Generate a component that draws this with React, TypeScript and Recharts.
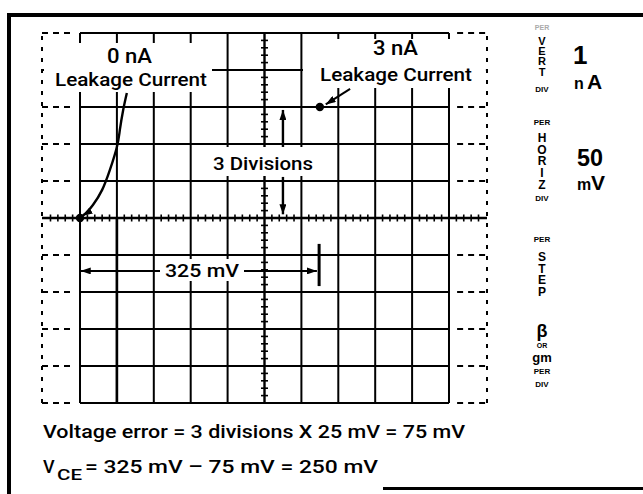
import { ComposedChart, XAxis, YAxis, Line, Scatter, ReferenceLine } from 'recharts'

// graticule, in divisions (50 mV / div across, 1 nA / div up)
const X_MIN = -1.03
const X_MAX = 11.03
const CENTER = 5
const COLUMNS = [0, 1, 2, 3, 4, 6, 7, 8, 9, 10]
const ROWS = [0, 1, 2, 3, 4, 6, 7, 8, 9, 10]
const SUBDIV = [0.2, 0.4, 0.6, 0.8]
const H_TICK_DIVS = [-1, 0, 1, 2, 3, 4, 5, 6, 7, 8, 9, 10]
const V_TICK_DIVS = [0, 1, 2, 3, 4, 5, 6, 7, 8, 9]

// trace points
const DOTS = [
  { x: 0, y: 5 },
  { x: 6.5, y: 8 },
]
const TRACE_0NA = [
  { x: 1, y: -0.05 },
  { x: 1, y: 5 },
]

// annotation arrows
const ARROW_0NA = [
  { x: 1.27, y: 8.38 },
  { x: 1.17, y: 7.92 },
  { x: 1.08, y: 7.38 },
  { x: 1.0, y: 6.92 },
  { x: 0.81, y: 6.3 },
  { x: 0.6, y: 5.76 },
  { x: 0.35, y: 5.35 },
  { x: 0.16, y: 5.13 },
  { x: 0.07, y: 5.06 },
]
const ARROW_3NA = [
  { x: 7.32, y: 8.49 },
  { x: 6.66, y: 8.07 },
]
const DIV_UP = [
  { x: 5.5, y: 6.92 },
  { x: 5.5, y: 7.92 },
]
const DIV_DOWN = [
  { x: 5.5, y: 6.11 },
  { x: 5.5, y: 5.1 },
]
const MV_LEFT = [
  { x: 2.22, y: 3.57 },
  { x: 0.02, y: 3.57 },
]
const MV_RIGHT = [
  { x: 4.44, y: 3.57 },
  { x: 6.42, y: 3.57 },
]
const MV_BAR = [
  { x: 6.48, y: 4.3 },
  { x: 6.48, y: 3.16 },
]

const hTicks = H_TICK_DIVS.flatMap((d) => SUBDIV.map((s) => ({ x: d + s, y: CENTER })))
const vTicks = V_TICK_DIVS.flatMap((d) => SUBDIV.map((s) => ({ x: CENTER, y: d + s })))

const INK = '#000'
const FONT = "Roboto, 'Liberation Sans', Arial, sans-serif"
const PANEL_FONT = "'Liberation Sans', Arial, sans-serif"

function Txt({ x, y, len, size, weight = 500, anchor = 'start', fill = INK, font = FONT, children }: any) {
  return (
    <text
      x={x}
      y={y}
      fontSize={size}
      fontWeight={weight}
      fontFamily={font}
      textAnchor={anchor}
      fill={fill}
      textLength={len}
      lengthAdjust={len ? 'spacingAndGlyphs' : undefined}
    >
      {children}
    </text>
  )
}

// control panel legend
const PANEL_X = 542
const PANEL_WORDS = [
  { t: 'VERT', top: 35, s: 11, ls: -1.8 },
  { t: 'HORIZ', top: 131, s: 12, ls: -2.3 },
  { t: 'STEP', top: 250, s: 12, ls: -2.4 },
]
const PANEL_SMALL = [
  { t: 'DIV', y: 92, s: 8 },
  { t: 'PER', y: 125, s: 8 },
  { t: 'DIV', y: 201, s: 8 },
  { t: 'PER', y: 242, s: 8 },
  { t: 'β', y: 337, s: 18 },
  { t: 'OR', y: 348, s: 7 },
  { t: 'gm', y: 362, s: 13 },
  { t: 'PER', y: 374, s: 8 },
  { t: 'DIV', y: 387, s: 8 },
]

function HTick(p: any) {
  return <line x1={p.cx} y1={p.cy - 3.5} x2={p.cx} y2={p.cy + 3.5} stroke={INK} strokeWidth={1.6} />
}
function VTick(p: any) {
  return <line x1={p.cx - 3.5} y1={p.cy} x2={p.cx + 3.5} y2={p.cy} stroke={INK} strokeWidth={1.6} />
}
function Dot(p: any) {
  return <circle cx={p.cx} cy={p.cy} r={4.2} fill={INK} />
}

const seg = (x1: number, y1: number, x2: number, y2: number) => [
  { x: x1, y: y1 },
  { x: x2, y: y2 },
]

export default function App() {
  return (
    <div style={{ position: 'relative', width: 643, height: 494, background: '#fff' }}>
      <style>{'body{margin:0;background:#fff}'}</style>
      <svg width={0} height={0} style={{ position: 'absolute' }}>
        <defs>
          <marker
            id="ah"
            viewBox="0 0 10 10"
            refX={10}
            refY={5}
            markerWidth={10}
            markerHeight={7}
            markerUnits="userSpaceOnUse"
            orient="auto"
            preserveAspectRatio="none"
          >
            <path d="M0,0 L10,5 L0,10 z" fill={INK} />
          </marker>
        </defs>
      </svg>

      <ComposedChart width={643} height={494} margin={{ top: 33, right: 156, bottom: 91, left: 42 }}>
        <XAxis hide type="number" dataKey="x" domain={[X_MIN, X_MAX]} allowDataOverflow />
        <YAxis hide type="number" dataKey="y" domain={[0, 10]} allowDataOverflow />

        {COLUMNS.map((c) => (
          <ReferenceLine key={'c' + c} segment={seg(c, 0, c, 10)} stroke={INK} strokeWidth={2} ifOverflow="visible" />
        ))}
        {ROWS.map((r) => (
          <ReferenceLine key={'r' + r} segment={seg(0, r, 10, r)} stroke={INK} strokeWidth={2} ifOverflow="visible" />
        ))}
        {ROWS.map((r) => (
          <ReferenceLine key={'rl' + r} segment={seg(X_MIN, r, -0.2, r)} stroke={INK} strokeWidth={2}
            strokeDasharray="6 5" ifOverflow="visible" />
        ))}
        {ROWS.map((r) => (
          <ReferenceLine key={'rr' + r} segment={seg(10.22, r, X_MAX, r)} stroke={INK} strokeWidth={2}
            strokeDasharray="6 5" ifOverflow="visible" />
        ))}
        <ReferenceLine segment={seg(X_MIN, 0, X_MIN, 10)} stroke={INK} strokeWidth={2} strokeDasharray="4 7" ifOverflow="visible" />
        <ReferenceLine segment={seg(X_MAX, 0, X_MAX, 10)} stroke={INK} strokeWidth={2} strokeDasharray="4 7" ifOverflow="visible" />
        <ReferenceLine segment={seg(CENTER, 0, CENTER, 10)} stroke={INK} strokeWidth={2.4} ifOverflow="visible" />
        <ReferenceLine segment={seg(X_MIN, CENTER, X_MAX, CENTER)} stroke={INK} strokeWidth={2.4} ifOverflow="visible" />

        <Scatter data={hTicks} shape={HTick} isAnimationActive={false} />
        <Scatter data={vTicks} shape={VTick} isAnimationActive={false} />

        <Line data={TRACE_0NA} dataKey="y" stroke={INK} strokeWidth={2.6} dot={false} activeDot={false} isAnimationActive={false} />
        <Line data={ARROW_0NA} dataKey="y" type="natural" stroke={INK} strokeWidth={2.4} dot={false} activeDot={false}
          markerEnd="url(#ah)" isAnimationActive={false} />
        <Line data={ARROW_3NA} dataKey="y" stroke={INK} strokeWidth={2} dot={false} activeDot={false}
          markerEnd="url(#ah)" isAnimationActive={false} />
        <Line data={DIV_UP} dataKey="y" stroke={INK} strokeWidth={2.4} dot={false} activeDot={false}
          markerEnd="url(#ah)" isAnimationActive={false} />
        <Line data={DIV_DOWN} dataKey="y" stroke={INK} strokeWidth={2.4} dot={false} activeDot={false}
          markerEnd="url(#ah)" isAnimationActive={false} />
        <Line data={MV_LEFT} dataKey="y" stroke={INK} strokeWidth={2} dot={false} activeDot={false}
          markerEnd="url(#ah)" isAnimationActive={false} />
        <Line data={MV_RIGHT} dataKey="y" stroke={INK} strokeWidth={2} dot={false} activeDot={false}
          markerEnd="url(#ah)" isAnimationActive={false} />
        <Line data={MV_BAR} dataKey="y" stroke={INK} strokeWidth={3} dot={false} activeDot={false} isAnimationActive={false} />
        <Scatter data={DOTS} shape={Dot} isAnimationActive={false} />
      </ComposedChart>

      <svg width={643} height={494} style={{ position: 'absolute', left: 0, top: 0, pointerEvents: 'none' }}>
        {/* frame */}
        <rect x={7} y={13} width={636} height={4} fill={INK} />
        <rect x={7} y={13} width={4} height={481} fill={INK} />
        <rect x={383} y={487} width={260} height={3} fill={INK} />

        {/* white label backgrounds hiding the graticule */}
        <rect x={44} y={43} width={168} height={49} fill="#fff" />
        <rect x={303} y={39} width={182} height={49} fill="#fff" />
        <rect x={205} y={147} width={117} height={29} fill="#fff" />
        <rect x={160} y={259} width={84} height={22} fill="#fff" />

        <Txt x={107} y={63} len={45} size={20}>0 nA</Txt>
        <Txt x={55} y={86} len={152} size={19}>Leakage Current</Txt>
        <Txt x={373} y={55} len={45} size={20}>3 nA</Txt>
        <Txt x={320} y={81} len={152} size={19}>Leakage Current</Txt>
        <Txt x={213} y={170} len={100} size={18}>3 Divisions</Txt>
        <Txt x={165} y={277} len={74} size={18}>325 mV</Txt>

        <Txt x={43} y={438} len={422} size={18}>Voltage error = 3 divisions X 25 mV = 75 mV</Txt>
        <Txt x={43} y={473} size={18}>V</Txt>
        <Txt x={57} y={480} len={25} size={15}>CE</Txt>
        <Txt x={85} y={473} len={293} size={18}>= 325 mV – 75 mV = 250 mV</Txt>

        {/* control panel legend */}
        <Txt x={PANEL_X} y={30} size={7} weight={700} anchor="middle" fill="#aaa" font={PANEL_FONT}>PER</Txt>
        {PANEL_WORDS.map((w) => (
          <text
            key={w.t}
            x={PANEL_X}
            y={w.top}
            fontSize={w.s}
            fontWeight={700}
            fontFamily={PANEL_FONT}
            fill={INK}
            letterSpacing={w.ls}
            style={{ writingMode: 'vertical-rl', textOrientation: 'upright' } as any}
          >
            {w.t}
          </text>
        ))}
        {PANEL_SMALL.map((l, i) => (
          <Txt key={i} x={PANEL_X} y={l.y} size={l.s} weight={700} anchor="middle" font={PANEL_FONT}>{l.t}</Txt>
        ))}

        <Txt x={573} y={64} size={26} weight={700} font={PANEL_FONT}>1</Txt>
        <Txt x={574} y={89} size={16} weight={700} font={PANEL_FONT}>n</Txt>
        <Txt x={587} y={89} size={21} weight={700} font={PANEL_FONT}>A</Txt>
        <Txt x={577} y={166} len={26} size={24} weight={700} font={PANEL_FONT}>50</Txt>
        <Txt x={577} y={190} size={16} weight={700} font={PANEL_FONT}>m</Txt>
        <Txt x={591} y={190} size={21} weight={700} font={PANEL_FONT}>V</Txt>
      </svg>
    </div>
  )
}
